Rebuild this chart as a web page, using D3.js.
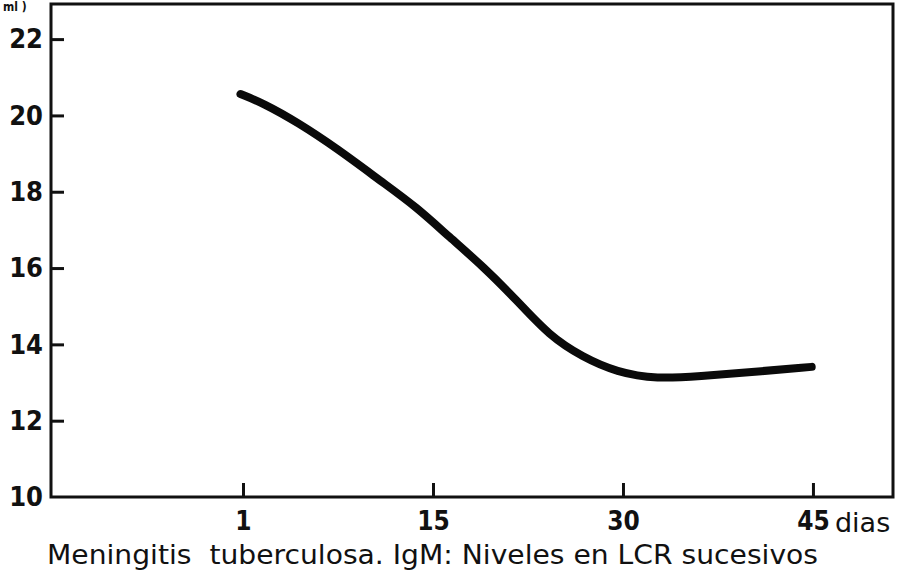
<!DOCTYPE html>
<html>
<head>
<meta charset="utf-8">
<script src="https://cdn.jsdelivr.net/npm/d3@7"></script>
<style>
  html, body { margin: 0; padding: 0; background: #fff; }
  svg { display: block; }
  text { font-family: "DejaVu Sans Condensed", "DejaVu Sans", sans-serif; fill: #111; }
</style>
</head>
<body>
<svg id="chart" width="911" height="579"></svg>
<script>
// ---- data ----
const days   = [-0.2, 1.6, 4.3, 7.4, 11.0, 13.7, 16.3, 19.0, 21.6, 24.2, 26.8, 29.5, 32.7, 36.1, 40.0, 44.9];
const igm    = [20.56, 20.32, 19.82, 19.14, 18.25, 17.60, 16.81, 16.03, 15.16, 14.22, 13.67, 13.27, 13.09, 13.17, 13.27, 13.41];
const xTickValues = [0, 15, 30, 45];
const xTickLabels = ["1", "15", "30", "45"];
const yTickValues = [10, 12, 14, 16, 18, 20, 22];
const unitLabel = "ml )";
const xUnitLabel = "dias";
const caption = "Meningitis  tuberculosa. IgM: Niveles en LCR sucesivos";

// ---- layout ----
const svg = d3.select("#chart");
const mLeft = 51, mRight = 893, mTop = 4, mBottom = 497;

const x = d3.scaleLinear().domain([-15.16, 51.32]).range([mLeft, mRight]);
const y = d3.scaleLinear().domain([10, 22.92]).range([mBottom, mTop]);

// frame
svg.append("rect")
  .attr("x", mLeft).attr("y", mTop)
  .attr("width", mRight - mLeft).attr("height", mBottom - mTop)
  .attr("fill", "none").attr("stroke", "#111").attr("stroke-width", 3);

// y axis
const yAxis = svg.append("g")
  .attr("transform", `translate(${mLeft},0)`)
  .call(d3.axisLeft(y).tickValues(yTickValues).tickSize(-13).tickPadding(8).tickFormat(d3.format("d")));
yAxis.select(".domain").remove();
yAxis.selectAll(".tick line").attr("stroke", "#111").attr("stroke-width", 3)
  .filter(d => d === 10).remove();
yAxis.selectAll(".tick text")
  .attr("font-size", 27).attr("font-weight", "bold")
  .style("font-family", '"DejaVu Sans Condensed", "DejaVu Sans", sans-serif')
  .attr("fill", "#111");

// x axis
const xAxis = svg.append("g")
  .attr("transform", `translate(0,${mBottom})`)
  .call(d3.axisBottom(x).tickValues(xTickValues).tickSize(-14).tickPadding(15)
        .tickFormat((d, i) => xTickLabels[i]));
xAxis.select(".domain").remove();
xAxis.selectAll(".tick line").attr("stroke", "#111").attr("stroke-width", 3);
xAxis.selectAll(".tick text")
  .attr("font-size", 26).attr("font-weight", "bold")
  .style("font-family", '"DejaVu Sans Condensed", "DejaVu Sans", sans-serif')
  .attr("fill", "#111");

// "dias"
svg.append("text")
  .attr("x", x(45) + 22).attr("y", 532)
  .attr("font-size", 27)
  .style("font-family", '"DejaVu Sans", sans-serif')
  .text(xUnitLabel);

// unit label top-left (mostly cropped in the original scan)
svg.append("text")
  .attr("x", 3).attr("y", 11)
  .attr("font-size", 12).attr("font-weight", "bold")
  .text(unitLabel);

// caption
svg.append("text")
  .attr("x", 47).attr("y", 564)
  .attr("font-size", 26)
  .style("font-family", '"DejaVu Sans", sans-serif')
  .style("white-space", "pre")
  .attr("textLength", 771).attr("lengthAdjust", "spacingAndGlyphs")
  .text(caption);

// curve
const line = d3.line()
  .x((d, i) => x(days[i]))
  .y((d, i) => y(igm[i]))
  .curve(d3.curveBasis);

svg.append("path")
  .datum(igm)
  .attr("d", line)
  .attr("fill", "none")
  .attr("stroke", "#0a0a0a")
  .attr("stroke-width", 8)
  .attr("stroke-linecap", "round")
  .attr("stroke-linejoin", "round");
</script>
</body>
</html>
